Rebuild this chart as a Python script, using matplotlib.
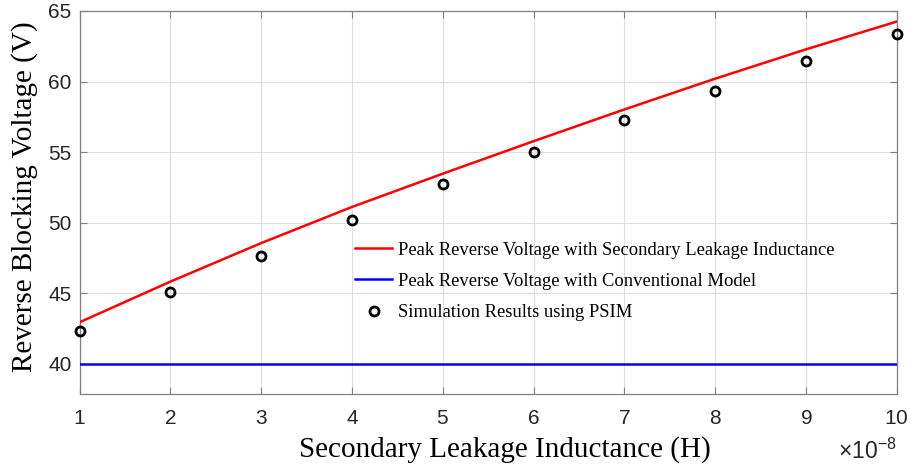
import numpy as np
import matplotlib
matplotlib.use("Agg")
import matplotlib.pyplot as plt
from matplotlib.ticker import ScalarFormatter

plt.rcParams['mathtext.fontset'] = 'custom'
plt.rcParams['mathtext.rm'] = 'Liberation Sans'

# Secondary leakage inductance (H)
inductance = np.array([1, 2, 3, 4, 5, 6, 7, 8, 9, 10]) * 1e-8
# Analytical peak reverse voltage including secondary leakage inductance (V)
v_leakage = [42.94, 45.82, 48.55, 51.11, 53.47, 55.77, 58.02, 60.20, 62.28, 64.25]
# Conventional model (V)
v_conventional = [40.0] * 10
# PSIM simulation results (V)
v_psim = [42.32, 45.07, 47.63, 50.21, 52.74, 55.01, 57.26, 59.32, 61.43, 63.37]

axis_col = '#262626'
fig = plt.figure(figsize=(9.11, 4.70), dpi=100)
ax = fig.add_axes([0.0875, 0.1617, 0.8968, 0.8149])

ax.plot(inductance, v_leakage, color='red', lw=1.8,
        label='Peak Reverse Voltage with Secondary Leakage Inductance', zorder=3)
ax.plot(inductance, v_conventional, color='blue', lw=1.8,
        label='Peak Reverse Voltage with Conventional Model', zorder=3)
ax.plot(inductance, v_psim, 'o', mfc='none', mec='black', mew=2.0, ms=6.5,
        label='Simulation Results using PSIM', zorder=4, clip_on=False)

ax.set_xlim(1e-8, 10e-8)
ax.set_ylim(37.85, 65)
ax.set_xticks(inductance)
ax.set_yticks([40, 45, 50, 55, 60, 65])

fmt = ScalarFormatter(useMathText=True)
fmt.set_powerlimits((-8, -8))
ax.xaxis.set_major_formatter(fmt)
ax.xaxis.get_offset_text().set_visible(False)
ax.text(1.0, -0.118, r'$\times10^{-8}$', transform=ax.transAxes,
        ha='right', va='top', fontsize=16.5, color=axis_col)

ax.grid(True, color='#dedede', lw=0.8)
ax.set_axisbelow(True)
for s in ax.spines.values():
    s.set_color('#7f7f7f')
    s.set_linewidth(0.9)
ax.tick_params(direction='in', top=True, right=True, length=5, width=0.8,
               color='#7f7f7f', labelcolor=axis_col, labelsize=15,
               labelfontfamily='Liberation Sans')
ax.tick_params(axis='x', pad=11)
ax.tick_params(axis='y', pad=6)

ax.set_xlabel('Secondary Leakage Inductance (H)', family='Liberation Serif',
              fontsize=21, color='black')
ax.set_ylabel('Reverse Blocking Voltage (V)', family='Liberation Serif',
              fontsize=21, color='black')
ax.xaxis.set_label_coords(0.521, -0.110)
ax.yaxis.set_label_coords(-0.051, 0.516)

ax.legend(loc='upper left', bbox_to_anchor=(0.3816, 0.5015),
          bbox_transform=fig.transFigure, frameon=False,
          prop={'family': 'Liberation Serif', 'size': 13.4},
          handlelength=2.0, handletextpad=0.32, labelspacing=0.76,
          borderpad=0.4, borderaxespad=0)

fig.savefig('out.png', dpi=100)
